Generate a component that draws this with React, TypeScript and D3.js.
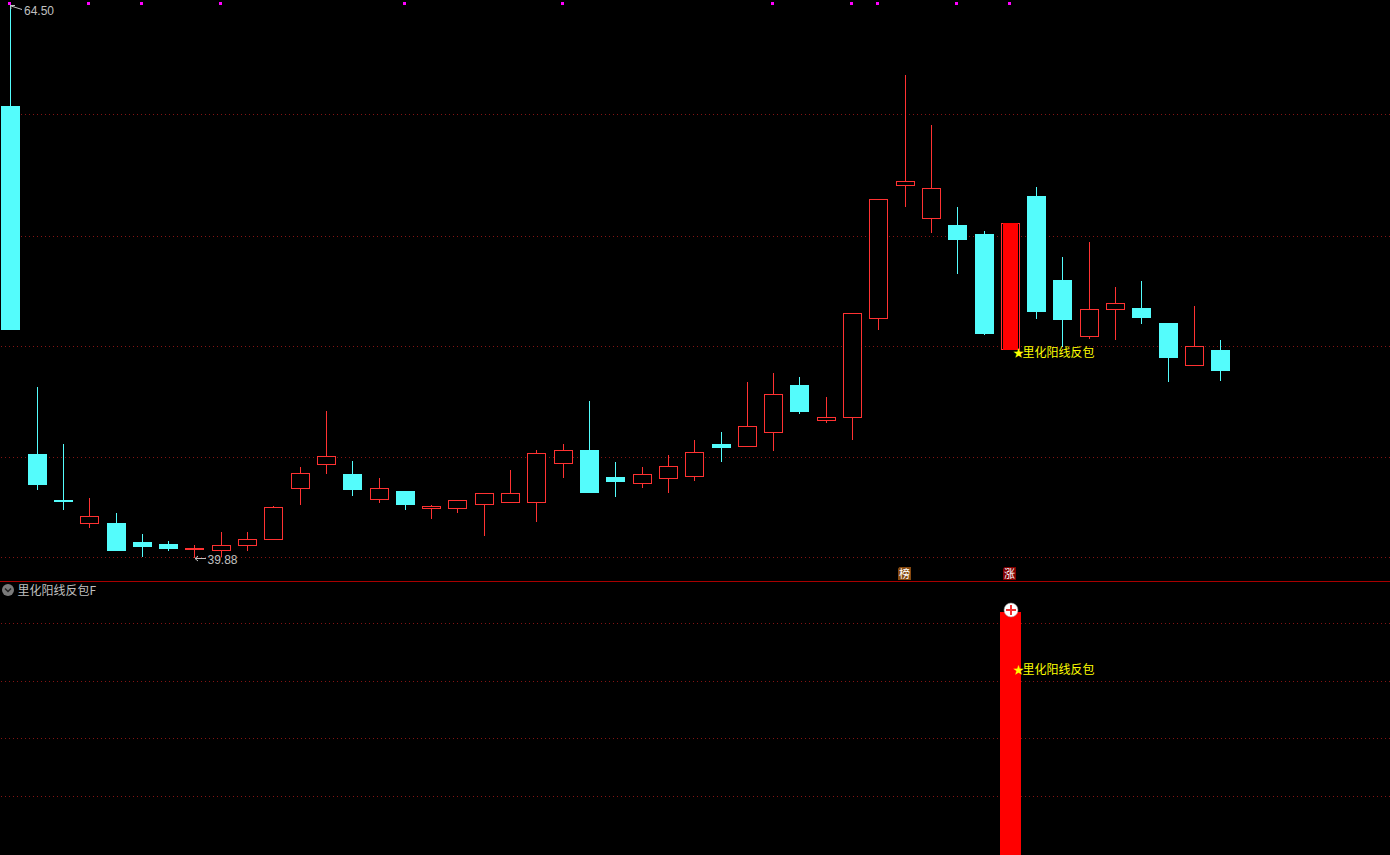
import React from "react";
import * as d3 from "d3";

const WIDTH = 1390;
const HEIGHT = 855;

const opens = [60.0,44.51,42.46,41.39,41.44,40.59,40.5,40.24,40.19,40.42,40.68,42.95,44.02,43.62,42.46,42.86,42.06,42.06,42.24,42.33,42.33,44.07,44.69,43.49,43.18,43.4,43.49,44.96,44.82,45.45,47.58,45.98,46.11,50.52,56.44,54.97,54.71,54.3,49.14,56.0,52.26,49.72,50.92,51.01,50.34,48.43,49.14];
const highs = [64.5,47.49,44.96,42.55,41.88,40.95,40.64,40.46,41.04,41.04,42.2,43.93,46.43,44.2,43.44,42.86,42.24,42.46,42.77,43.8,44.69,44.96,46.87,44.15,43.93,44.47,45.13,45.49,47.72,48.12,47.94,47.05,50.79,55.86,61.38,59.16,55.51,54.44,54.79,56.4,53.28,53.95,51.95,52.21,50.34,51.1,49.59];
const lows = [50.03,42.91,42.02,41.22,40.19,39.92,40.19,39.88,39.92,40.19,40.68,42.24,43.62,42.64,42.33,42.02,41.62,41.88,40.86,42.33,41.48,43.44,42.77,42.6,43.0,42.77,43.31,44.15,44.82,44.64,46.29,45.89,45.13,50.03,55.51,54.35,52.52,49.81,49.14,50.52,49.27,49.63,49.59,50.3,47.72,48.43,47.76];
const closes = [50.03,43.13,42.37,41.75,40.19,40.37,40.28,40.33,40.46,40.73,42.15,43.66,44.42,42.91,43.0,42.24,42.2,42.46,42.77,42.77,44.56,44.69,42.77,43.26,43.62,43.98,44.6,44.78,45.76,47.18,46.38,46.16,50.79,55.86,56.66,56.35,54.04,49.85,54.79,50.83,50.48,50.97,51.23,50.57,48.78,49.32,48.21];

const priceGrid = [59.63, 54.2, 49.3, 44.36, 39.91];
const signalGrid = [0.9535, 0.7148, 0.4803, 0.2428];
const signalIndex = 38;
const signalValue = 1;
const markerIndexes = [0, 3, 5, 8, 15, 21, 29, 32, 33, 36, 38];

const SIGNAL_LABEL = "里化阳线反包";
const INDICATOR_TITLE = "里化阳线反包F";
const HIGH_LABEL = "64.50";
const LOW_LABEL = "39.88";

const RED = "#ff3232";
const CYAN = "#54fcfc";
const GRID = "#841414";
const GRAY = "#c0c0c0";
const YELLOW = "#ffff00";
const FONT = '"Noto Sans CJK SC", "Liberation Sans", sans-serif';
const NUM_FONT = '"Liberation Sans", sans-serif';

const x = d3.scaleLinear().domain([0, opens.length - 1]).range([10.3, 1220.33]);
const y = d3.scaleLinear().domain([39.88, 64.5]).range([558, 5]);
const ySignal = d3.scaleLinear().domain([0, signalValue]).range([855, 612]);
const cx = (i: number) => Math.round(x(i));
const py = (v: number) => Math.round(y(v));

function SignalLabel({ top }: { top: number }) {
  const sx = cx(signalIndex);
  return (
    <g fontFamily={FONT} fill={YELLOW} fontSize={12}>
      <text x={sx + 3} y={top + 4.5} fontSize={11}>★</text>
      <text x={sx + 12.5} y={top + 4.5}>{SIGNAL_LABEL}</text>
    </g>
  );
}

function Badge({ x0, fill, label }: { x0: number; fill: string; label: string }) {
  const path = d3.path();
  path.moveTo(x0 + 1.5, 567);
  path.lineTo(x0 + 13, 567);
  path.lineTo(x0 + 13, 580);
  path.lineTo(x0, 580);
  path.lineTo(x0, 568.5);
  path.closePath();
  return (
    <g>
      <path d={path.toString()} fill={fill} />
      <text x={x0 + 6.5} y={578} textAnchor="middle" fontFamily={FONT} fontSize={11} fill="#ffffff">{label}</text>
    </g>
  );
}

function Candle({ i }: { i: number }) {
  const c = cx(i);
  const up = closes[i] >= opens[i];
  const top = py(Math.max(opens[i], closes[i]));
  const bot = py(Math.min(opens[i], closes[i]));
  const hi = py(highs[i]);
  const lo = py(lows[i]);
  const color = up ? RED : CYAN;
  return (
    <g>
      <rect x={c} y={hi} width={1} height={Math.max(0, lo - hi)} fill={color} />
      {up ? (
        <rect x={c - 8.5} y={top + 0.5} width={18} height={Math.max(1, bot - top - 1)} fill="#000" stroke={color} strokeWidth={1} />
      ) : (
        <rect x={c - 9} y={top} width={19} height={Math.max(1, bot - top)} fill={color} />
      )}
      {i === signalIndex && <rect x={c - 7} y={top} width={15} height={bot - top} fill="#ff0000" />}
    </g>
  );
}

export default function App() {
  const lowIdx = lows.indexOf(d3.min(lows) as number);
  const highIdx = highs.indexOf(d3.max(highs) as number);
  const lc = cx(lowIdx);
  const hc = cx(highIdx);
  const sc = cx(signalIndex);
  return (
    <svg
      width={WIDTH}
      height={HEIGHT}
      viewBox={`0 0 ${WIDTH} ${HEIGHT}`}
      style={{ position: "fixed", left: 0, top: 0, display: "block", background: "#000" }}
    >
      <rect x={0} y={0} width={WIDTH} height={HEIGHT} fill="#000" />
      {priceGrid.map((v) => (
        <line key={v} x1={1} x2={WIDTH} y1={py(v) + 0.5} y2={py(v) + 0.5} stroke={GRID} strokeWidth={1} strokeDasharray="1 3" />
      ))}
      {signalGrid.map((v) => (
        <line key={v} x1={1} x2={WIDTH} y1={Math.round(ySignal(v)) + 0.5} y2={Math.round(ySignal(v)) + 0.5} stroke={GRID} strokeWidth={1} strokeDasharray="1 3" />
      ))}
      <g shapeRendering="crispEdges">
        <line x1={0} x2={WIDTH} y1={581.5} y2={581.5} stroke="#a80000" />
        {markerIndexes.map((i) => (
          <rect key={i} x={cx(i) - 2} y={2} width={3} height={3} fill="#ff00ff" />
        ))}
        {opens.map((_, i) => (
          <Candle key={i} i={i} />
        ))}
        <rect x={sc - 10} y={ySignal(signalValue)} width={21} height={855 - ySignal(signalValue)} fill="#ff0000" />
      </g>

      {/* high / low arrows */}
      <g stroke={GRAY} fill="none" strokeWidth={1}>
        <path d={`M${hc + 0.5},5.5 L${hc + 5},5.5 M${hc + 0.5},5.5 L${hc + 1},9 M${hc + 1},6 L${hc + 12},9.5`} />
        <path d={`M${lc + 1},558.5 L${lc + 12},558.5 M${lc + 1},558.5 L${lc + 4},556 M${lc + 1},558.5 L${lc + 4},561`} />
      </g>
      <g fill={GRAY} fontFamily={NUM_FONT} fontSize={12}>
        <text x={24} y={14.5}>{HIGH_LABEL}</text>
        <text x={207.5} y={564}>{LOW_LABEL}</text>
      </g>

      <SignalLabel top={py(lows[signalIndex]) + 2} />
      <SignalLabel top={669} />

      <Badge x0={898} fill="#85480f" label="榜" />
      <Badge x0={1003} fill="#800000" label="涨" />

      {/* indicator title */}
      <circle cx={8} cy={590} r={6} fill="#7a7a7a" />
      <path d="M5,588.5 L8,591.5 L11,588.5" fill="none" stroke="#222" strokeWidth={1.5} />
      <text x={17.5} y={594.5} fontFamily={FONT} fontSize={12} fill={GRAY}>{INDICATOR_TITLE}</text>

      {/* plus marker */}
      <circle cx={1011} cy={610} r={7} fill="#ffffff" stroke="#999" strokeWidth={0.5} />
      <g shapeRendering="crispEdges" fill="#f03030">
        <rect x={1006} y={609} width={10} height={2} />
        <rect x={1010} y={605} width={2} height={10} />
      </g>
    </svg>
  );
}
